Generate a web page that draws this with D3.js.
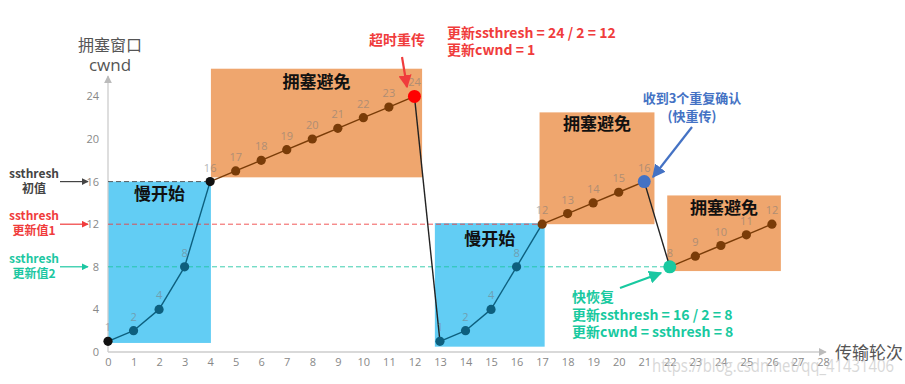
<!DOCTYPE html>
<html>
<head>
<meta charset="utf-8">
<script src="https://cdn.jsdelivr.net/npm/d3@7"></script>
<style>
  body { margin: 0; background: #fff; }
  svg { display: block; font-family: "Noto Sans CJK SC", "Open Sans", sans-serif; }
  .halo { paint-order: stroke; stroke: #fff; stroke-width: 3px; stroke-linejoin: round; }
</style>
</head>
<body>
<svg id="chart" width="905" height="384"></svg>
<script>
// transmission rounds and congestion window per round
const rounds = [0, 1, 2, 3, 4, 5, 6, 7, 8, 9, 10, 11, 12, 13, 14, 15, 16, 17, 18, 19, 20, 21, 22, 23, 24, 25, 26];
const cwnd = [1, 2, 4, 8, 16, 17, 18, 19, 20, 21, 22, 23, 24, 1, 2, 4, 8, 12, 13, 14, 15, 16, 8, 9, 10, 11, 12];
// phase of each point: ss = slow start, ca = congestion avoidance
const phase = ["start", "ss", "ss", "ss", "start", "ca", "ca", "ca", "ca", "ca", "ca", "ca", "timeout",
  "ss", "ss", "ss", "ss", "ca", "ca", "ca", "ca", "dupack", "fastrec", "ca", "ca", "ca", "ca"];

const xTicks = d3.range(0, 29);
const yTicks = [0, 4, 8, 12, 16, 20, 24];

// phase regions [x0, x1, y0, y1] in data units
const zones = [
  { name: "慢开始", kind: "ss", x0: 0, x1: 4.03, y0: 0.85, y1: 16 },
  { name: "拥塞避免", kind: "ca", x0: 4.03, x1: 12.3, y0: 16.4, y1: 26.6 },
  { name: "慢开始", kind: "ss", x0: 12.8, x1: 17.1, y0: 0.5, y1: 12.1 },
  { name: "拥塞避免", kind: "ca", x0: 16.9, x1: 21.4, y0: 12.0, y1: 22.5 },
  { name: "拥塞避免", kind: "ca", x0: 21.9, x1: 26.35, y0: 7.6, y1: 14.7 }
];
const zoneLabelY = [14.7, 25.2, 10.5, 21.3, 13.4];

// ssthresh values and how far each dashed line runs
const thresholds = [
  { value: 16, end: 4, color: "#444", lines: ["ssthresh", "初值"] },
  { value: 12, end: 17, color: "#f03c3c", lines: ["ssthresh", "更新值1"] },
  { value: 8, end: 22, color: "#1cc7a2", lines: ["ssthresh", "更新值2"] }
];

const colors = {
  ss: "#0d5f7e", ca: "#7a3c08", start: "#111", timeout: "#ff0000",
  dupack: "#4472c4", fastrec: "#18c9a0"
};

const svg = d3.select("#chart");
const x = d3.scaleLinear().domain([0, 28]).range([108, 823]);
const y = d3.scaleLinear().domain([0, 24]).range([352, 96.4]);

svg.append("defs").selectAll("marker")
  .data([["ag", "#bbb"], ["ak", "#444"], ["ar", "#f03c3c"], ["at", "#1cc7a2"], ["ab", "#4472c4"]])
  .join("marker")
  .attr("id", d => d[0])
  .attr("viewBox", "0 0 10 10").attr("refX", 9).attr("refY", 5)
  .attr("markerWidth", 6).attr("markerHeight", 6).attr("orient", "auto")
  .append("path").attr("d", "M0,0L10,5L0,10z").attr("fill", d => d[1]);

// zones
svg.selectAll("rect.zone").data(zones).join("rect")
  .attr("class", "zone")
  .attr("x", d => x(d.x0)).attr("width", d => x(d.x1) - x(d.x0))
  .attr("y", d => y(d.y1)).attr("height", d => y(d.y0) - y(d.y1))
  .attr("fill", d => d.kind === "ss" ? "#62cdf4" : "#efa66e");

svg.selectAll("text.zone").data(zones).join("text")
  .attr("x", d => (x(d.x0) + x(d.x1)) / 2)
  .attr("y", (d, i) => y(zoneLabelY[i]))
  .attr("text-anchor", "middle").attr("dominant-baseline", "middle")
  .attr("font-size", 17).attr("font-weight", "bold").attr("fill", "#111")
  .text(d => d.name);

// axes
const ax = svg.append("g").attr("transform", `translate(0,${y(0)})`)
  .call(d3.axisBottom(x).tickValues(xTicks).tickSize(0).tickPadding(6));
ax.select(".domain").remove();
ax.selectAll("text").attr("fill", "#888").attr("font-size", 11).attr("font-family", "Open Sans, sans-serif");

const ay = svg.append("g").attr("transform", `translate(${x(0)},0)`)
  .call(d3.axisLeft(y).tickValues(yTicks).tickSize(0).tickPadding(9));
ay.select(".domain").remove();
ay.selectAll("text").attr("fill", "#888").attr("font-size", 11).attr("font-family", "Open Sans, sans-serif");

svg.append("line").attr("x1", x(0)).attr("x2", x(0)).attr("y1", y(0)).attr("y2", 76)
  .attr("stroke", "#ccc").attr("stroke-width", 1.3).attr("marker-end", "url(#ag)");
svg.append("line").attr("x1", x(0)).attr("x2", 826).attr("y1", y(0)).attr("y2", y(0))
  .attr("stroke", "#ccc").attr("stroke-width", 1.3).attr("marker-end", "url(#ag)");

svg.append("text").attr("x", 110).attr("y", 51).attr("text-anchor", "middle")
  .attr("font-size", 16).attr("fill", "#555").text("拥塞窗口");
svg.append("text").attr("x", 110).attr("y", 71).attr("text-anchor", "middle")
  .attr("font-size", 17).attr("fill", "#555").attr("font-family", "Open Sans, sans-serif").text("cwnd");
svg.append("text").attr("x", 835).attr("y", 359)
  .attr("font-size", 17).attr("fill", "#555").text("传输轮次");

// threshold dashed lines and side labels
thresholds.forEach((t, i) => {
  svg.append("line").attr("x1", x(0)).attr("x2", x(t.end)).attr("y1", y(t.value)).attr("y2", y(t.value))
    .attr("stroke", t.color).attr("stroke-width", 1).attr("stroke-dasharray", "5,3").attr("opacity", 0.85);
  svg.append("line").attr("x1", 60).attr("x2", 88).attr("y1", y(t.value)).attr("y2", y(t.value))
    .attr("stroke", t.color).attr("stroke-width", 1.2).attr("marker-end", `url(#${["ak", "ar", "at"][i]})`);
  svg.append("text").attr("class", "halo").attr("x", 34).attr("y", y(t.value) - 4)
    .attr("text-anchor", "middle").attr("font-size", 12).attr("font-weight", "bold").attr("fill", t.color)
    .text(t.lines[0]);
  svg.append("text").attr("class", "halo").attr("x", 34).attr("y", y(t.value) + 11)
    .attr("text-anchor", "middle").attr("font-size", 12).attr("font-weight", "bold").attr("fill", t.color)
    .text(t.lines[1]);
});

// line segments, coloured by the phase they belong to
const pts = rounds.map((r, i) => ({ r, v: cwnd[i], p: phase[i] }));
function segColor(i) {
  const a = pts[i], b = pts[i + 1];
  if (b.v < a.v) return "#222";
  if (b.p === "ss" || (a.p === "ss" && b.v <= 12 && b.p === "ca") || a.p === "start" && b.p === "ss") return colors.ss;
  if (a.p === "ss" && b.p === "start") return colors.ss;
  return colors.ca;
}
svg.selectAll("line.seg").data(pts.slice(0, -1)).join("line")
  .attr("x1", d => x(d.r)).attr("y1", d => y(d.v))
  .attr("x2", (d, i) => x(pts[i + 1].r)).attr("y2", (d, i) => y(pts[i + 1].v))
  .attr("stroke", (d, i) => segColor(i)).attr("stroke-width", 1.4);

// value labels
svg.selectAll("text.val").data(pts).join("text")
  .attr("x", d => x(d.r)).attr("y", d => y(d.v) - 10)
  .attr("text-anchor", "middle").attr("font-size", 11)
  .attr("font-family", "Open Sans, sans-serif")
  .attr("fill", "#7a7a7a").attr("opacity", 0.55)
  .text(d => d.v);

// points
const big = ["timeout", "dupack", "fastrec"];
svg.selectAll("circle.pt").data(pts).join("circle")
  .attr("cx", d => x(d.r)).attr("cy", d => y(d.v))
  .attr("r", d => big.includes(d.p) ? 6.5 : 4.6)
  .attr("fill", d => colors[d.p]);

// annotations
function note(lines, x0, y0, color, size, anchor, gap) {
  lines.forEach((s, i) => svg.append("text").attr("class", "halo")
    .attr("x", x0).attr("y", y0 + i * gap).attr("text-anchor", anchor || "start")
    .attr("font-size", size).attr("font-weight", "bold").attr("fill", color).text(s));
}
function arrow(x1, y1, x2, y2, color, id) {
  svg.append("line").attr("x1", x1).attr("y1", y1).attr("x2", x2).attr("y2", y2)
    .attr("stroke", color).attr("stroke-width", 2.2).attr("marker-end", `url(#${id})`);
}
note(["超时重传"], 397, 45, "#f03c3c", 14, "middle", 0);
arrow(402, 57, 407, 87, "#f03c3c", "ar");
note(["更新ssthresh = 24 / 2 = 12", "更新cwnd = 1"], 447, 38, "#f03c3c", 14, "start", 17);

note(["收到3个重复确认", "(快重传)"], 692, 103, "#4472c4", 13, "middle", 18);
arrow(692, 127, 653, 177, "#4472c4", "ab");

note(["快恢复", "更新ssthresh = 16 / 2 = 8", "更新cwnd = ssthresh = 8"], 572, 302, "#18c9a0", 14, "start", 17.5);
arrow(620, 288, 661, 273, "#18c9a0", "at");

// watermark
svg.append("text").attr("x", 652).attr("y", 372).attr("font-size", 18)
  .attr("textLength", 242).attr("lengthAdjust", "spacingAndGlyphs")
  .attr("font-family", "Open Sans, sans-serif").attr("fill", "#ccc").attr("opacity", 0.75)
  .text("https://blog.csdn.net/qq_41431406");
</script>
</body>
</html>
